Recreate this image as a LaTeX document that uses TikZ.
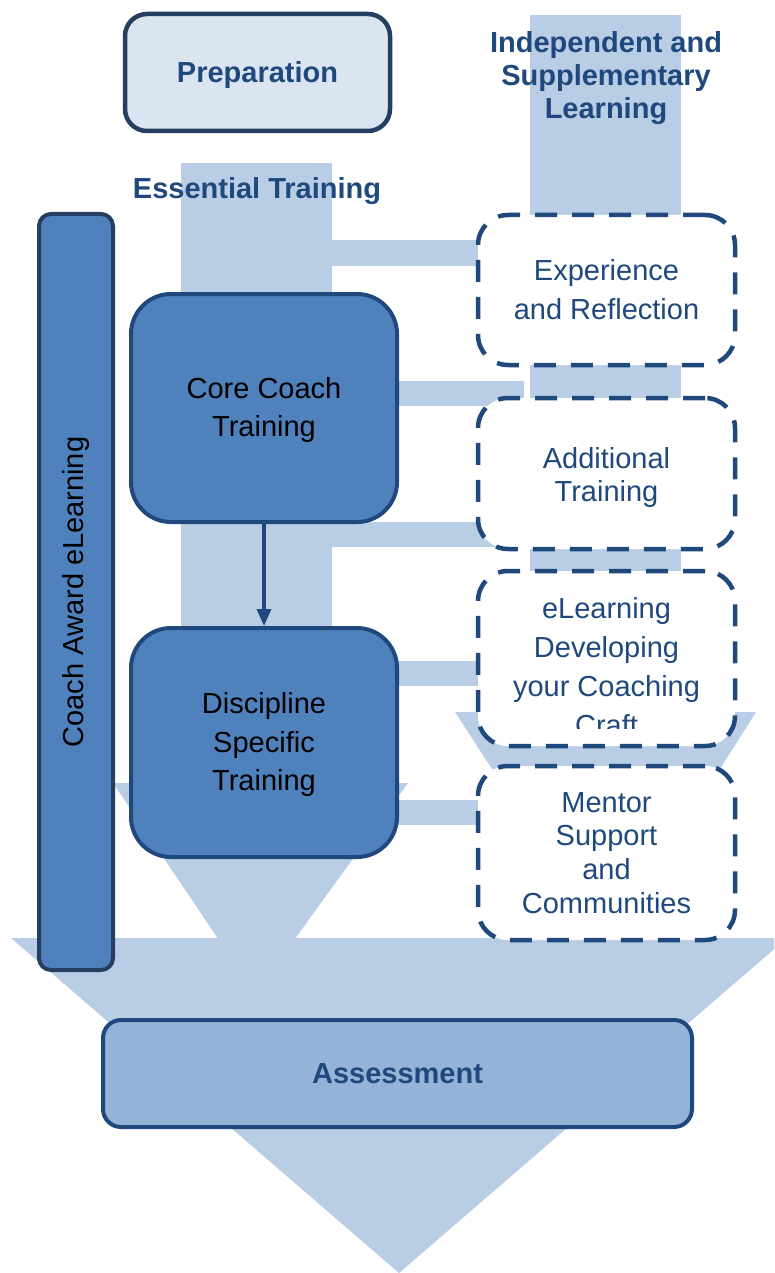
\documentclass[tikz,border=0pt]{standalone}
\usepackage{fontspec}
\setmainfont{Liberation Sans}
\usetikzlibrary{arrows.meta}
\definecolor{lightband}{HTML}{B9CDE5}
\definecolor{navy}{HTML}{1F497D}
\definecolor{darknavy}{HTML}{243F60}
\definecolor{midblue}{HTML}{4F81BD}
\definecolor{prepfill}{HTML}{DBE5F1}
\definecolor{assessfill}{HTML}{95B3D7}
\tikzset{
  band/.style={fill=lightband, draw=none},
  headtext/.style={text=navy, font=\fontsize{29}{33}\selectfont\bfseries, align=center, inner sep=0pt},
  solidbox/.style={draw=navy, line width=4pt, fill=midblue, rounded corners=40pt, inner sep=0pt,
    font=\fontsize{29}{38.5}\selectfont, text=black, align=center},
  dashbox/.style={draw=navy, line width=4.5pt, fill=white, rounded corners=30pt, dash pattern=on 22pt off 15pt,
    inner sep=0pt, minimum width=257pt},
  boxtext/.style={text=navy, align=center, inner sep=0pt},
}
\begin{document}
\begin{tikzpicture}[x=1pt,y=-1pt]
\useasboundingbox (0,0) rectangle (774,1273);
% background bands
\begin{scope}
\clip (0,0) rectangle (774,1273);
\fill[lightband] (11,938) -- (787,938) -- (399,1273) -- cycle;
\end{scope}
\fill[band] (530,15) rectangle (681,215);
\fill[band] (181,163) rectangle (332,784);
\fill[band] (113,783) -- (408,783) -- (294,940) -- (219,940) -- cycle;
\fill[band] (332,240) rectangle (480,266);
\fill[band] (397,381) rectangle (524,406);
\fill[band] (530,365) rectangle (681,398);
\fill[band] (332,522) rectangle (500,547);
\fill[band] (530,548) rectangle (681,572);
\fill[band] (397,661) rectangle (480,686);
\fill[band] (455,712) -- (756,712) -- (720,769) -- (492,769) -- cycle;
\fill[band] (397,800) rectangle (480,825);

% headings
\node[draw=darknavy, line width=4.5pt, fill=prepfill, rounded corners=22pt, minimum width=265pt, minimum height=117pt,
  headtext] (prep) at (257.5,72.5) {};
\node[headtext] (preptxt) at (257.5,75) {Preparation};
\node[headtext] (indep) at (606,78) {Independent and\\Supplementary\\Learning};
\node[headtext] (essent) at (257,191) {Essential Training};

% coach award bar
\node[draw=darknavy, line width=4pt, fill=midblue, rounded corners=12pt, minimum width=74pt, minimum height=756pt, inner sep=0pt]
  (coach) at (76,592) {};
\node[rotate=90, text=black, font=\fontsize{29}{33}\selectfont, inner sep=0pt] (coachtxt) at (coach.center) {Coach Award eLearning};

% core boxes
\node[solidbox, minimum width=266pt, minimum height=228pt] (core) at (264,408) {};
\node[text=black, font=\fontsize{29}{38.5}\selectfont, align=center, inner sep=0pt] (coretxt) at (264,410) {Core Coach\\Training};
\node[solidbox, minimum width=266pt, minimum height=229pt] (disc) at (264,742.5) {};
\node[text=black, font=\fontsize{29}{38.5}\selectfont, align=center, inner sep=0pt] (disctxt) at (264,744.5) {Discipline\\Specific\\Training};
\draw[navy, line width=3.5pt, -{Triangle[length=17pt,width=14pt]}] (core.south) -- (disc.north);

% dashed boxes
\node[dashbox, minimum height=150pt, boxtext, font=\fontsize{29}{39}\selectfont] (exp) at (606.5,290) {Experience\\and Reflection};
\node[dashbox, minimum height=151pt] (add) at (606.5,473.5) {};
\node[boxtext, font=\fontsize{29}{33}\selectfont] (addtxt) at (606.5,477) {Additional\\Training};
\node[dashbox, minimum height=175pt] (elearn) at (606.5,658.5) {};
\begin{scope}
\clip (482,575) rectangle (731,728);
\node[boxtext, font=\fontsize{29}{39}\selectfont] (elearntxt) at (606.5,667) {eLearning\\Developing\\your Coaching\\Craft};
\end{scope}
\node[dashbox, minimum height=174pt, boxtext, font=\fontsize{29}{33.7}\selectfont] (mentor) at (606.5,853) {Mentor\\Support\\and\\Communities};

% assessment
\node[draw=navy, line width=4pt, fill=assessfill, rounded corners=18pt, minimum width=589pt, minimum height=107pt,
  headtext] (assess) at (397.5,1073.5) {Assessment};
\end{tikzpicture}
\end{document}
